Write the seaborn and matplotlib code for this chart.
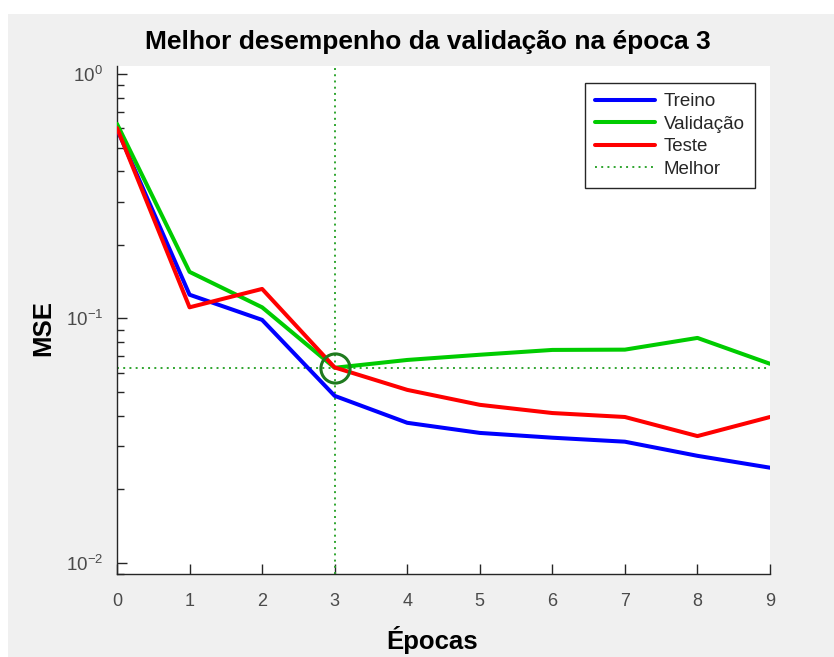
import matplotlib
matplotlib.use("Agg")
import matplotlib.pyplot as plt
import matplotlib.patches as mpatches
from matplotlib.lines import Line2D
from matplotlib.ticker import LogLocator, LogFormatterSciNotation, NullFormatter
import numpy as np
import pandas as pd
import seaborn as sns

# Training performance (mean squared error per epoch)
epocas = [0, 1, 2, 3, 4, 5, 6, 7, 8, 9]
treino = [0.595, 0.125, 0.0986, 0.0482, 0.0374, 0.0340, 0.0325, 0.0313, 0.0274, 0.0245]
validacao = [0.625, 0.155, 0.111, 0.0628, 0.0676, 0.0710, 0.0743, 0.0745, 0.0832, 0.0652]
teste = [0.601, 0.111, 0.132, 0.0630, 0.0510, 0.0443, 0.0410, 0.0395, 0.0330, 0.0395]
series_nomes = ["Treino", "Validação", "Teste"]
melhor_epoca = 3
melhor_valor = validacao[melhor_epoca]
titulo = f"Melhor desempenho da validação na época {melhor_epoca}"

sns.set_theme(style="ticks")
plt.rcParams["font.family"] = ["Liberation Sans", "DejaVu Sans"]
plt.rcParams["mathtext.fontset"] = "custom"
plt.rcParams["mathtext.rm"] = "Liberation Sans"
plt.rcParams["mathtext.it"] = "Liberation Sans:italic"
plt.rcParams["mathtext.bf"] = "Liberation Sans:bold"

W, H = 834, 657
fig = plt.figure(figsize=(W / 100, H / 100), dpi=100, facecolor="white")

# grey window background
fig.patches.append(mpatches.Rectangle((8 / W, 0), 1 - 8 / W, 1 - 14 / H,
                                      transform=fig.transFigure, facecolor="#f0f0f0",
                                      edgecolor="none", zorder=-10))

ax_l, ax_r, ax_t, ax_b = 117, 770, 66, 574
ax = fig.add_axes([ax_l / W, 1 - ax_b / H, (ax_r - ax_l) / W, (ax_b - ax_t) / H])
ax.set_facecolor("white")

df = pd.DataFrame({
    "Época": epocas * 3,
    "MSE": treino + validacao + teste,
    "Conjunto": [series_nomes[0]] * len(epocas) + [series_nomes[1]] * len(epocas)
                + [series_nomes[2]] * len(epocas),
})
cores = {"Treino": "#0000ff", "Validação": "#00cc00", "Teste": "#ff0000"}
sns.lineplot(data=df, x="Época", y="MSE", hue="Conjunto", palette=cores,
             linewidth=2.9, ax=ax, legend=False, zorder=3)

verde_melhor = "#2fa52f"
ax.axvline(melhor_epoca, color=verde_melhor, linestyle=(0, (1, 2.2)), linewidth=1.4, zorder=2)
ax.axhline(melhor_valor, color=verde_melhor, linestyle=(0, (1, 2.2)), linewidth=1.4, zorder=2)
ax.plot([melhor_epoca], [melhor_valor], marker="o", markersize=21, markerfacecolor="none",
        markeredgecolor="#1f7a1f", markeredgewidth=2.2, zorder=4)

ax.set_yscale("log")
ax.set_xlim(0, 9)
ax.set_ylim(0.0090, 1.078)
ax.set_xticks(epocas)
ax.yaxis.set_major_locator(LogLocator(base=10, numticks=10))
ax.yaxis.set_minor_locator(LogLocator(base=10, subs=np.arange(2, 10), numticks=20))
ax.yaxis.set_major_formatter(LogFormatterSciNotation())
ax.yaxis.set_minor_formatter(NullFormatter())

sns.despine(ax=ax)
for s in ("left", "bottom"):
    ax.spines[s].set_color("#262626")
    ax.spines[s].set_linewidth(1.0)
ax.tick_params(axis="x", which="major", direction="in", length=7, width=1.0,
               color="#262626", labelsize=13, labelcolor="#4a4a4a", pad=14)
ax.tick_params(axis="y", which="major", direction="in", length=7, width=1.0,
               color="#262626", labelsize=13.5, labelcolor="#4a4a4a", pad=10)
ax.tick_params(axis="y", which="minor", direction="in", length=5, width=1.0, color="#262626")
ax.tick_params(axis="x", which="minor", bottom=False)

ax.set_xlabel("")
ax.set_ylabel("")
fig.text(428 / W, 1 - 42 / H, titulo, ha="center", va="center", fontsize=19,
         fontweight="bold", color="black")
fig.text(432 / W, 1 - 640 / H, "Épocas", ha="center", va="center", fontsize=18.5,
         fontweight="bold", color="black")
fig.text(43 / W, 1 - 328 / H, "MSE", ha="center", va="center", fontsize=18.5,
         fontweight="bold", color="black", rotation=90)

handles = [Line2D([], [], color=cores[n], linewidth=2.9) for n in series_nomes]
handles.append(Line2D([], [], color=verde_melhor, linestyle=(0, (1, 2.2)), linewidth=1.4))
leg = ax.legend(handles, series_nomes + ["Melhor"], loc="upper left",
                bbox_to_anchor=(585 / W, 1 - 83 / H), bbox_transform=fig.transFigure,
                borderaxespad=0, frameon=True, fancybox=False, fontsize=13.5,
                handlelength=3.2, handletextpad=0.45, labelspacing=0.28,
                borderpad=0.55)
leg.get_frame().set_edgecolor("#262626")
leg.get_frame().set_linewidth(1.0)
leg.get_frame().set_facecolor("white")
leg.get_frame().set_alpha(1)

fig.savefig("out.png", dpi=100, facecolor=fig.get_facecolor())
